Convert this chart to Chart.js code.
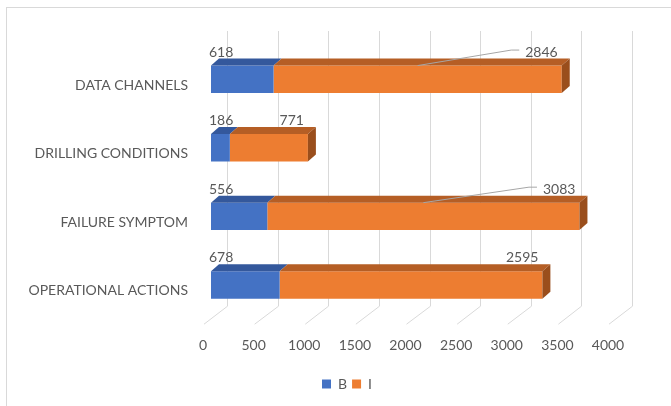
<!DOCTYPE html>
<html>
<head>
<meta charset="utf-8">
<script src="https://cdn.jsdelivr.net/npm/chart.js@4.4.0/dist/chart.umd.min.js"></script>
<style>
  html, body { margin: 0; padding: 0; background: #fff; }
  #wrap { position: relative; width: 671px; height: 406px; overflow: hidden; }
  #frame { position: absolute; left: 6px; top: 7px; width: 700px; height: 430px;
           border-top: 1px solid #d9d9d9; border-left: 1px solid #d9d9d9; }
  canvas { position: absolute; left: 0; top: 0; }
</style>
</head>
<body>
<div id="wrap">
  <div id="frame"></div>
  <canvas id="myChart" width="671" height="406"></canvas>
</div>
<script>
const categories = ["DATA CHANNELS", "DRILLING CONDITIONS", "FAILURE SYMPTOM", "OPERATIONAL ACTIONS"];
const valuesB = [618, 186, 556, 678];
const valuesI = [2846, 771, 3083, 2595];
const axisMin = 0;
const axisMax = 4000;
const axisStep = 500;

// labels that Excel pulled away from the bar, with a leader line
const leaderFor = ["DATA CHANNELS", "FAILURE SYMPTOM"];

const textColor = "#595959";
const gridColor = "#d9d9d9";
const font = { family: "Lato", size: 14 };

// top / side faces of the 3D bars
const depthX = 8, depthY = 7;
const topColors = ["#34589c", "#b55e25"];
const sideColor = "#9a4e1c";

function face(ctx, pts, color) {
  ctx.beginPath();
  ctx.moveTo(pts[0][0], pts[0][1]);
  for (let k = 1; k < pts.length; k++) ctx.lineTo(pts[k][0], pts[k][1]);
  ctx.closePath();
  ctx.fillStyle = color;
  ctx.fill();
}

const threeD = {
  id: "threeD",
  afterLayout(chart) {
    // legend sits centred under the whole frame, not under the padded box
    chart.legend.left = 78;
  },
  beforeDatasetsDraw(chart) {
    const { ctx, chartArea, scales: { x } } = chart;
    ctx.save();
    ctx.strokeStyle = gridColor;
    ctx.lineWidth = 1;
    x.ticks.forEach((t) => {
      const px = x.getPixelForValue(t.value);
      const bx = Math.round(px + 16) + 0.5;
      ctx.beginPath();
      ctx.moveTo(bx, chartArea.top - 14);
      ctx.lineTo(bx, chartArea.bottom - 13);
      ctx.lineTo(px - 7, chartArea.bottom + 5);
      ctx.stroke();
    });
    ctx.restore();
  },
  afterDatasetsDraw(chart) {
    const ctx = chart.ctx;
    const metaB = chart.getDatasetMeta(0);
    const metaI = chart.getDatasetMeta(1);
    ctx.save();
    categories.forEach((cat, i) => {
      const b = metaB.data[i];
      const o = metaI.data[i];
      const top = b.y - b.height / 2;
      const bottom = b.y + b.height / 2;
      [b, o].forEach((bar, d) => {
        face(ctx, [[bar.base, top], [bar.x, top], [bar.x + depthX, top - depthY], [bar.base + depthX, top - depthY]], topColors[d]);
      });
      face(ctx, [[o.x, top], [o.x + depthX, top - depthY], [o.x + depthX, bottom - depthY], [o.x, bottom]], sideColor);

      // value labels
      ctx.font = font.size + "px " + font.family;
      ctx.fillStyle = textColor;
      ctx.textBaseline = "middle";
      const ly = top - 13.5;
      ctx.textAlign = "left";
      ctx.fillText(String(valuesB[i]), b.base - 2, ly);
      const txt = String(valuesI[i]);
      const right = o.x - 4;
      ctx.textAlign = "right";
      ctx.fillText(txt, right, ly);
      if (leaderFor.includes(cat)) {
        const left = right - ctx.measureText(txt).width;
        ctx.strokeStyle = "#a6a6a6";
        ctx.lineWidth = 1;
        ctx.beginPath();
        ctx.moveTo((o.base + o.x) / 2, top);
        ctx.lineTo(left - 14, ly - 2);
        ctx.lineTo(left - 6, ly - 2);
        ctx.stroke();
      }
    });
    ctx.restore();
  }
};

let ctx = document.getElementById("myChart").getContext("2d");
let myChart = new Chart(ctx, {
  type: "bar",
  data: {
    labels: categories,
    datasets: [
      { label: "B", data: valuesB, backgroundColor: "#4472c4" },
      { label: "I", data: valuesI, backgroundColor: "#ed7d31" },
    ],
  },
  options: {
    indexAxis: "y",
    responsive: false,
    animation: false,
    events: [],
    categoryPercentage: 0.8,
    barPercentage: 0.5,
    layout: { padding: { top: 45, right: 55, left: 0, bottom: 5 } },
    scales: {
      x: {
        stacked: true,
        min: axisMin,
        max: axisMax,
        grid: { display: false, drawTicks: false },
        border: { display: false },
        ticks: {
          stepSize: axisStep, color: textColor, font: font, padding: 18, labelOffset: -8, maxRotation: 0,
          callback: (v) => String(v),
        },
      },
      y: {
        stacked: true,
        grid: { display: false, drawTicks: false },
        border: { display: false },
        ticks: { color: textColor, font: font, padding: 23, labelOffset: 6 },
        afterFit(scale) { scale.width = 211; },
      },
    },
    plugins: {
      legend: {
        position: "bottom",
        labels: { boxWidth: 9, boxHeight: 9, color: textColor, font: font, padding: 5 },
      },
      tooltip: { enabled: false },
    },
  },
  plugins: [threeD],
});
</script>
</body>
</html>
